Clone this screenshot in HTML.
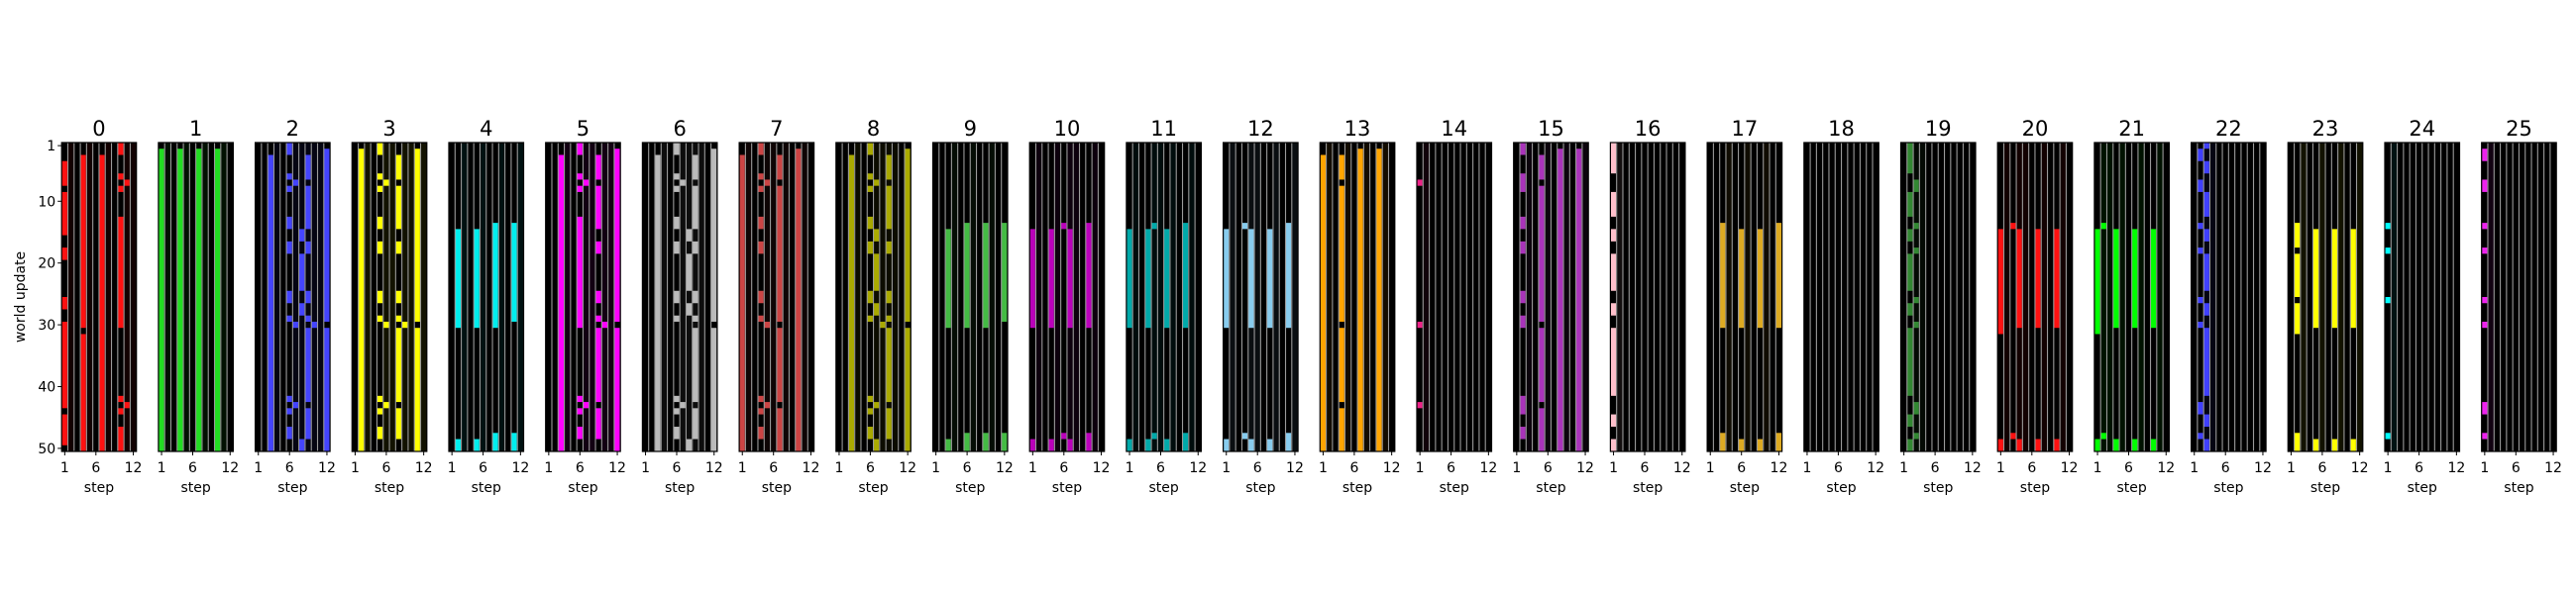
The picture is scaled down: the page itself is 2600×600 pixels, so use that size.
<!DOCTYPE html>
<html><head><meta charset="utf-8"><style>
html,body{margin:0;padding:0;background:#fff;}
svg{display:block;}
text{font-family:"DejaVu Sans","Liberation Sans",sans-serif;fill:#000;}
</style></head><body>
<svg id="fig" width="2600" height="600" viewBox="0 0 2600 600" xmlns="http://www.w3.org/2000/svg"></svg>
<script>
const M = "1-2,6,8,13-14,17-18,25-26,29,42,44,47-48";
const C = "3-6,8-14,17-18,25-26,29,31-42,44-48";
const G = "15-16,19-24,27-28,49-50";
const B = "15-30,49-50";
const A = "14-30,48-50";
const panelColors = ["#ff1111","#22dd22","#4444ff","#ffff00","#00eeee","#ff00ff","#bbbbbb","#cc4444","#aaaa00","#44bb44","#bb00bb","#00aaaa","#88ccee","#ffa500","#ee2288","#aa33bb","#ffc0cb","#ddaa22","#888888","#338833","#ff1111","#00ff00","#4040ff","#ffff00","#00ffff","#ee22ee"];
const p0 = [[1,"4-7,9-15,18-19,26-27,30-43,45-49"],[4,"3-30,32-50"],[7,"3-50"],[10,"1-2,6,8,13-30,42,44,47-50"],[11,"7,43"]];
const p1 = [[1,"2-50"],[4,"2-50"],[7,"2-50"],[10,"2-50"]];
const p2 = [[3,"3-50"],[6,M],[7,"7,30,43"],[8,G],[9,C],[10,"30"],[12,"2-29,31-50"]];
const p3 = [[2,"2-50"],[5,M],[6,"7,30,43"],[8,C],[9,"30"],[11,"2-29,31-50"]];
const p4 = [[2,B],[5,B],[8,A],[11,"14-29,48-50"]];
const p5 = [[3,"3-50"],[6,"1-2,6,8,13-30,42,44,47-48"],[7,"7,43"],[9,C],[10,"30"],[12,"2-29,31-50"]];
const p6 = [[3,"3-50"],[6,M],[7,"7,43"],[8,G],[9,C],[12,"2-29,31-50"]];
const p7 = [[1,"3-50"],[4,M],[5,"7,30,43"],[7,"3-6,8-29,31-42,44-50"],[10,"2-50"]];
const p8 = [[3,"3-50"],[6,M],[7,"7,15-16,19-24,27-28,43,49-50"],[8,"30"],[9,C],[12,"2-29,31-50"]];
const p9 = [[3,B],[6,A],[9,A],[12,"14-29,48-50"]];
const p10 = [[1,B],[4,B],[6,"14,48"],[7,B],[10,A]];
const p11 = [[1,B],[4,B],[5,"14,48"],[7,B],[10,A]];
const p12 = [[1,B],[4,"14,48"],[5,B],[8,B],[11,A]];
const p13 = [[1,"3-50"],[4,"3-6,8-29,31-42,44-50"],[7,"2-50"],[10,"2-50"]];
const p14 = [[1,"7,30,43"]];
const p15 = [[2,"1-2,6-8,13-14,17-18,25-26,29-30,42-44,47-48"],[5,"3-6,8-29,31-42,44-50"],[8,"2-50"],[11,"2-50"]];
const p16 = [[1,"1-5,9-12,15-16,19-24,27-28,31-41,45-46,49-50"]];
const p17 = [[3,A],[6,B],[9,B],[12,A]];
const p18 = [];
const p19 = [[2,"1-5,9-12,15-16,19-24,27-28,31-41,45-46,49-50"],[3,"7-8,14,18,26,30,43-44,48"]];
const p20 = [[1,"15-31,49-50"],[3,"14,48"],[4,B],[7,B],[10,B]];
const p21 = [[1,"15-31,49-50"],[2,"14,48"],[4,B],[7,B],[10,B]];
const p22 = [[2,"2-3,7-8,14,18,26,30,43-44,48"],[3,"1,4-5,9-12,15-16,19-24,27-28,31-41,45-46,49-50"]];
const p23 = [[2,"14-17,19-25,27-31,48-50"],[5,B],[8,B],[11,B]];
const p24 = [[1,"14,18,26,48"]];
const p25 = [[1,"2-3,7-8,14,18,26,30,43-44,48"]];
const panels = [p0,p1,p2,p3,p4,p5,p6,p7,p8,p9,p10,p11,p12,p13,p14,p15,p16,p17,p18,p19,p20,p21,p22,p23,p24,p25];
const yTicks = [1,10,20,30,40,50];
const xTicks = [1,6,12];
const nRows = 50, nCols = 12;

const svg = document.getElementById('fig');
const NS = "http://www.w3.org/2000/svg";
const L0 = 62.2, STEP = 97.7, PW = 75.5, TOP = 144, PH = 312;
const cw = PW / nCols, rh = PH / nRows;
function mk(tag, attrs){const e=document.createElementNS(NS,tag);for(const k in attrs)e.setAttribute(k,attrs[k]);return e;}
function xCol(left,c){return left+(c-1)*cw;}
function yRow(r){return TOP+(r-1)*rh;}
function parseRuns(s){return s.split(',').map(t=>{const p=t.split('-').map(Number);return [p[0],p.length>1?p[1]:p[0]];});}

panels.forEach((cols,k)=>{
  const left = L0 + k*STEP;
  const g = mk('g',{});
  
  
  svg.appendChild(g);
  const bg = mk('rect',{x:left,y:TOP,width:PW,height:PH,fill:'#000'});
  
  
  g.appendChild(bg);
  cols.forEach(([c,runs])=>{
    if(c<nCols){
      const t = mk('rect',{x:xCol(left,c+1),y:TOP,width:cw,height:PH,fill:panelColors[k],opacity:0.07});
      
      
      g.appendChild(t);
    }
    parseRuns(runs).forEach(([a,b])=>{
      const r = mk('rect',{x:xCol(left,c),y:yRow(a),width:cw-0.6,height:(b-a+1)*rh,fill:panelColors[k]});
      
      
      g.appendChild(r);
    });
  });
  for(let c=1;c<nCols;c++){
    const ln = mk('line',{x1:xCol(left,c+1),x2:xCol(left,c+1),y1:TOP,y2:TOP+PH,stroke:'#9a9a9a','stroke-width':1.1});
    
    
    g.appendChild(ln);
  }
  const fr = mk('rect',{x:left,y:TOP,width:PW,height:PH,fill:'none',stroke:'#000','stroke-width':1.2});
  
  
  g.appendChild(fr);
  const title = mk('text',{x:left+PW/2,y:137,'text-anchor':'middle','font-size':21});
  title.textContent = String(k);
  
  
  g.appendChild(title);
  xTicks.forEach(v=>{
    const x = xCol(left,v)+cw/2;
    const tk = mk('line',{x1:x,x2:x,y1:TOP+PH,y2:TOP+PH+4,stroke:'#000','stroke-width':1});
    
    
    g.appendChild(tk);
    const tl = mk('text',{x:x,y:477,'text-anchor':'middle','font-size':14});
    tl.textContent = String(v);
    
    
    g.appendChild(tl);
  });
  const xl = mk('text',{x:left+PW/2,y:497,'text-anchor':'middle','font-size':14});
  xl.textContent = 'step';
  
  
  g.appendChild(xl);
  if(k===0){
    yTicks.forEach(v=>{
      const y = yRow(v)+rh/2;
      const tk = mk('line',{x1:left-4,x2:left,y1:y,y2:y,stroke:'#000','stroke-width':1});
      
      
      g.appendChild(tk);
      const tl = mk('text',{x:left-6,y:y+5,'text-anchor':'end','font-size':14});
      tl.textContent = String(v);
      
      
      g.appendChild(tl);
    });
    const yl = mk('text',{x:0,y:0,'text-anchor':'middle','font-size':14,transform:'translate(25,300) rotate(-90)'});
    yl.textContent = 'world update';
    
    
    g.appendChild(yl);
  }
});
</script>
</body></html>
